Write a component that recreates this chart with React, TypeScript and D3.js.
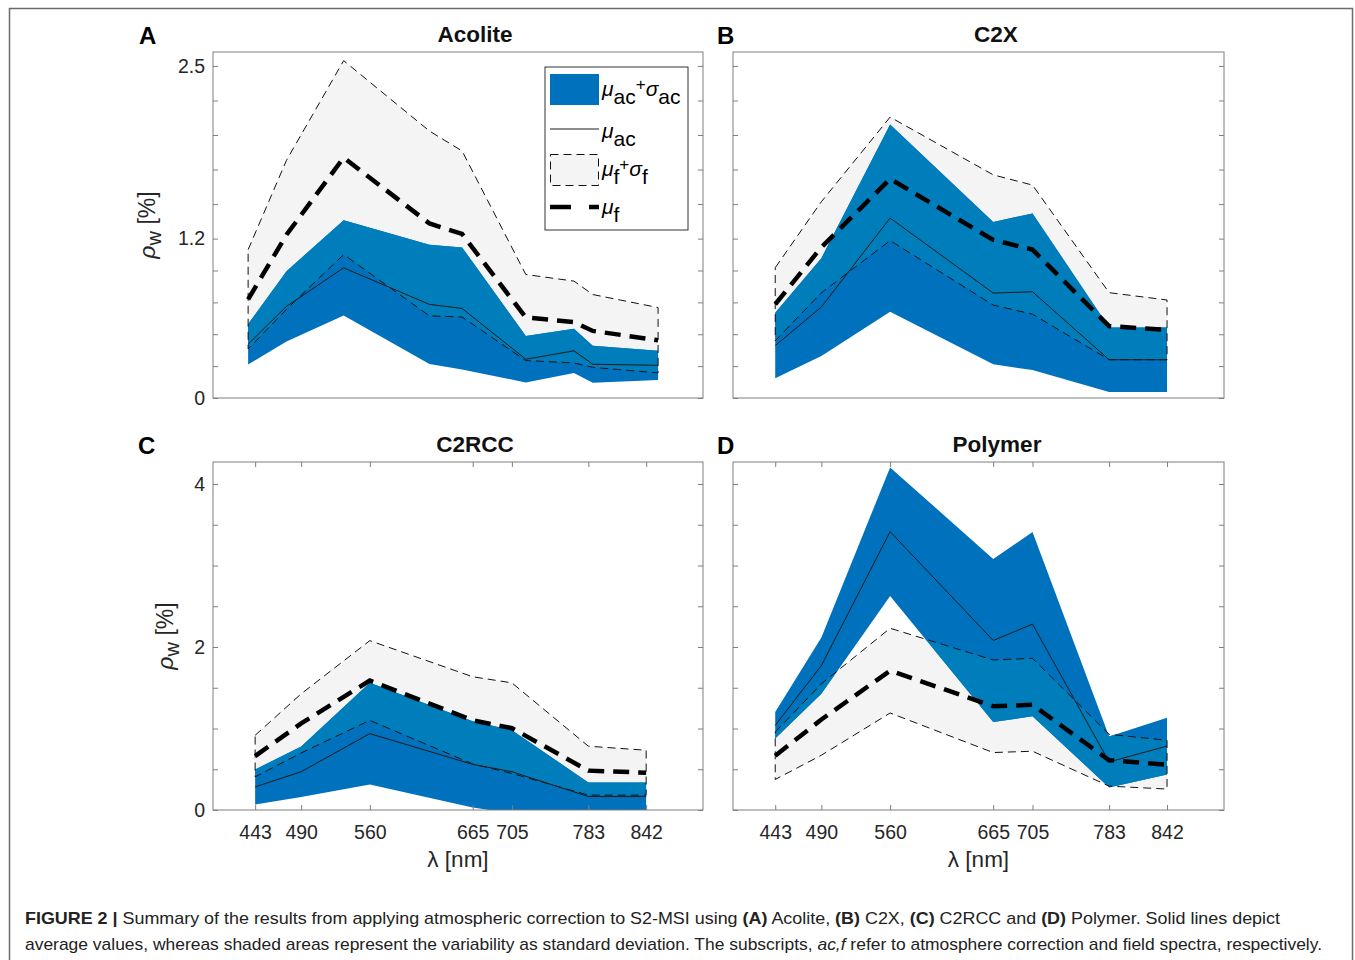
import React, { useEffect, useRef } from 'react';
import * as d3 from 'd3';

// wavelengths (nm)
const bandsAcolite = [443, 490, 560, 665, 705, 783, 842, 865, 945];
const bandsMsi = [443, 490, 560, 665, 705, 783, 842];

// Acolite
const acoliteMuAc = [0.405, 0.69, 0.98, 0.705, 0.674, 0.292, 0.355, 0.254, 0.246];
const acoliteSdAc = [0.152, 0.265, 0.358, 0.449, 0.46, 0.175, 0.167, 0.14, 0.11];
const acoliteMuF = [0.743, 1.229, 1.81, 1.314, 1.235, 0.606, 0.572, 0.505, 0.435];
const acoliteSdF = [0.374, 0.561, 0.73, 0.696, 0.625, 0.324, 0.308, 0.274, 0.246];

// C2X
const c2xMuAc = [0.395, 0.685, 1.355, 0.79, 0.8, 0.288, 0.288];
const c2xSdAc = [0.247, 0.368, 0.705, 0.536, 0.59, 0.243, 0.243];
const c2xMuF = [0.706, 1.135, 1.65, 1.19, 1.117, 0.541, 0.513];
const c2xSdF = [0.275, 0.343, 0.465, 0.49, 0.486, 0.252, 0.225];

// C2RCC
const c2rccMuAc = [0.283, 0.47, 0.937, 0.56, 0.47, 0.165, 0.165];
const c2rccSdAc = [0.214, 0.31, 0.623, 0.53, 0.51, 0.173, 0.173];
const c2rccMuF = [0.662, 1.063, 1.589, 1.1, 1.004, 0.483, 0.458];
const c2rccSdF = [0.255, 0.363, 0.489, 0.535, 0.556, 0.3, 0.275];

// Polymer
const polymerMuAc = [1.039, 1.772, 3.415, 2.08, 2.28, 0.59, 0.784];
const polymerSdAc = [0.163, 0.346, 0.789, 1.0, 1.13, 0.313, 0.348];
const polymerMuF = [0.666, 1.11, 1.71, 1.273, 1.291, 0.611, 0.556];
const polymerSdF = [0.291, 0.438, 0.52, 0.568, 0.57, 0.318, 0.299];

// tick labels
const yTickLabelsTop = [0, 1.2, 2.5];
const yTickLabelsBottom = [0, 2, 4];

const BLUE = '#0071bc';
const OVERLAP = '#007ebb';
const GRAY = '#f4f4f4';
const AXIS = '#7f7f7f';
const TEXT = '#262626';
const FONT = '"Liberation Sans", Arial, Helvetica, sans-serif';

const panels = [
  { key: 'A', title: 'Acolite', wl: bandsAcolite, muAc: acoliteMuAc, sdAc: acoliteSdAc, muF: acoliteMuF, sdF: acoliteSdF,
    left: 213, right: 703, top: 52, bottom: 398, xDomain: [400, 1000], yDomain: [0, 2.605], yLabels: yTickLabelsTop, ySub: 5,
    xTicks: false, yText: true, titleX: 475, letterX: 139, yTitleX: 155 },
  { key: 'B', title: 'C2X', wl: bandsMsi, muAc: c2xMuAc, sdAc: c2xSdAc, muF: c2xMuF, sdF: c2xSdF,
    left: 733, right: 1224, top: 52, bottom: 398, xDomain: [400, 900], yDomain: [0, 2.605], yLabels: yTickLabelsTop, ySub: 5,
    xTicks: false, yText: false, titleX: 996, letterX: 717, yTitleX: 0 },
  { key: 'C', title: 'C2RCC', wl: bandsMsi, muAc: c2rccMuAc, sdAc: c2rccSdAc, muF: c2rccMuF, sdF: c2rccSdF,
    left: 213, right: 703, top: 462, bottom: 810, xDomain: [400, 900], yDomain: [0, 4.27], yLabels: yTickLabelsBottom, ySub: 4,
    xTicks: true, yText: true, titleX: 475, letterX: 138, yTitleX: 173 },
  { key: 'D', title: 'Polymer', wl: bandsMsi, muAc: polymerMuAc, sdAc: polymerSdAc, muF: polymerMuF, sdF: polymerSdF,
    left: 733, right: 1224, top: 462, bottom: 810, xDomain: [400, 900], yDomain: [0, 4.27], yLabels: yTickLabelsBottom, ySub: 4,
    xTicks: true, yText: false, titleX: 997, letterX: 717, yTitleX: 0 },
];

// labelled ticks plus evenly spaced minor ones in between
function subdivide(labels: number[], n: number) {
  const out: number[] = [];
  for (let i = 0; i < labels.length - 1; i++) {
    for (let k = 0; k < n; k++) out.push(labels[i] + (labels[i + 1] - labels[i]) * k / n);
  }
  out.push(labels[labels.length - 1]);
  return out;
}

function styleAxis(g: any, size: number) {
  g.attr('color', AXIS).attr('font-family', FONT).attr('font-size', size);
  g.select('.domain').remove();
  g.selectAll('text').attr('fill', TEXT);
}

function drawPanel(svg: any, p: any) {
  const x = d3.scaleLinear().domain(p.xDomain).range([p.left, p.right]);
  const y = d3.scaleLinear().domain(p.yDomain).range([p.bottom, p.top]);

  const f = p.wl.map((w: number, i: number) => ({ w, mu: p.muF[i], sd: p.sdF[i] }));
  const ac = p.wl.map((w: number, i: number) => ({ w, mu: p.muAc[i], sd: p.sdAc[i] }));

  const band = d3.area<any>().x(d => x(d.w)).y0(d => y(d.mu - d.sd)).y1(d => y(d.mu + d.sd));
  const mean = d3.line<any>().x(d => x(d.w)).y(d => y(d.mu));

  const defs = svg.append('defs');
  defs.append('clipPath').attr('id', 'box-' + p.key).append('rect')
    .attr('x', p.left).attr('y', p.top).attr('width', p.right - p.left).attr('height', p.bottom - p.top);
  defs.append('clipPath').attr('id', 'ac-' + p.key).append('path').datum(ac).attr('d', band);

  const plot = svg.append('g').attr('clip-path', `url(#box-${p.key})`);

  plot.append('path').datum(f).attr('d', band).attr('fill', GRAY);
  plot.append('path').datum(ac).attr('d', band).attr('fill', BLUE);
  plot.append('g').attr('clip-path', `url(#ac-${p.key})`)
    .append('path').datum(f).attr('d', band).attr('fill', OVERLAP);

  plot.append('path').datum(f).attr('d', band)
    .attr('fill', 'none').attr('stroke', '#111').attr('stroke-width', 1).attr('stroke-dasharray', '8 5');
  plot.append('path').datum(ac).attr('d', mean)
    .attr('fill', 'none').attr('stroke', '#1a1a1a').attr('stroke-width', 1);
  plot.append('path').datum(f).attr('d', mean)
    .attr('fill', 'none').attr('stroke', '#000').attr('stroke-width', 4.5).attr('stroke-dasharray', '16 9');

  // y axes, ticks pointing inward
  const yTicks = subdivide(p.yLabels, p.ySub);
  const isLabel = (d: number) => p.yLabels.some((v: number) => Math.abs(v - d) < 1e-9);
  const gl = svg.append('g').attr('transform', `translate(${p.left},0)`)
    .call(d3.axisLeft(y).tickValues(yTicks).tickSizeInner(-5).tickSizeOuter(0).tickPadding(8)
      .tickFormat((d: any) => (p.yText && isLabel(d) ? String(d) : '')));
  styleAxis(gl, 19.5);
  const gr = svg.append('g').attr('transform', `translate(${p.right},0)`)
    .call(d3.axisRight(y).tickValues(yTicks).tickSizeInner(-5).tickSizeOuter(0).tickFormat(() => ''));
  styleAxis(gr, 19);

  if (p.xTicks) {
    const gb = svg.append('g').attr('transform', `translate(0,${p.bottom})`)
      .call(d3.axisBottom(x).tickValues(p.wl).tickSizeInner(-5).tickSizeOuter(0).tickPadding(15)
        .tickFormat((d: any) => String(d)));
    styleAxis(gb, 19.5);
    const gt = svg.append('g').attr('transform', `translate(0,${p.top})`)
      .call(d3.axisTop(x).tickValues(p.wl).tickSizeInner(-5).tickSizeOuter(0).tickFormat(() => ''));
    styleAxis(gt, 19);

    svg.append('text').attr('x', (p.left + p.right) / 2).attr('y', p.bottom + 57)
      .attr('text-anchor', 'middle').attr('font-family', FONT).attr('font-size', 22.5).attr('fill', TEXT)
      .text('λ [nm]');
  }

  svg.append('rect').attr('x', p.left).attr('y', p.top)
    .attr('width', p.right - p.left).attr('height', p.bottom - p.top)
    .attr('fill', 'none').attr('stroke', AXIS).attr('stroke-width', 1);

  // title and panel letter
  svg.append('text').attr('x', p.titleX).attr('y', p.top - 10).attr('text-anchor', 'middle')
    .attr('font-family', FONT).attr('font-weight', 'bold').attr('font-size', 22.5).attr('fill', '#111')
    .text(p.title);
  svg.append('text').attr('x', p.letterX).attr('y', p.top - 8)
    .attr('font-family', FONT).attr('font-weight', 'bold').attr('font-size', 24).attr('fill', '#000')
    .text(p.key);

  if (p.yText) {
    const yt = svg.append('text')
      .attr('transform', `translate(${p.yTitleX},${(p.top + p.bottom) / 2}) rotate(-90)`)
      .attr('text-anchor', 'middle').attr('font-family', FONT).attr('font-size', 23).attr('fill', TEXT);
    yt.append('tspan').attr('font-style', 'italic').text('ρ');
    yt.append('tspan').attr('dy', 6).attr('font-size', 20).text('w');
    yt.append('tspan').attr('dy', -6).text(' [%]');
  }
}

function drawLegend(svg: any) {
  const lx = 545, ly = 67, lw = 143, lh = 163;
  const g = svg.append('g').attr('font-family', FONT).attr('fill', '#000');
  g.append('rect').attr('x', lx).attr('y', ly).attr('width', lw).attr('height', lh)
    .attr('fill', '#fff').attr('stroke', '#333').attr('stroke-width', 1);

  g.append('rect').attr('x', 550).attr('y', 74).attr('width', 49).attr('height', 31).attr('fill', BLUE);
  g.append('line').attr('x1', 550).attr('x2', 599).attr('y1', 129).attr('y2', 129)
    .attr('stroke', '#1a1a1a').attr('stroke-width', 1);
  g.append('rect').attr('x', 550.5).attr('y', 154.5).attr('width', 48).attr('height', 31)
    .attr('fill', GRAY).attr('stroke', '#111').attr('stroke-dasharray', '8 5');
  g.append('line').attr('x1', 550).attr('x2', 599).attr('y1', 207).attr('y2', 207)
    .attr('stroke', '#000').attr('stroke-width', 4.5).attr('stroke-dasharray', '21 18');

  const entry = (yb: number, sub: string, plus: boolean) => {
    const t = g.append('text').attr('x', 602).attr('y', yb).attr('font-size', 21);
    t.append('tspan').attr('font-style', 'italic').text('μ');
    t.append('tspan').attr('dy', 8).text(sub);
    if (plus) {
      t.append('tspan').attr('dy', -14).attr('font-size', 17).text('+');
      t.append('tspan').attr('dy', 6).attr('font-style', 'italic').text('σ');
      t.append('tspan').attr('dy', 8).text(sub);
    }
  };
  entry(96, 'ac', true);
  entry(138, 'ac', false);
  entry(176, 'f', true);
  entry(214, 'f', false);
}

function drawCaption(svg: any) {
  const l1 = svg.append('text').attr('x', 25).attr('y', 924).attr('font-family', FONT)
    .attr('font-size', 17).attr('fill', '#222')
    .attr('textLength', 1255).attr('lengthAdjust', 'spacingAndGlyphs');
  l1.append('tspan').attr('font-weight', 'bold').text('FIGURE 2 |');
  l1.append('tspan').text(' Summary of the results from applying atmospheric correction to S2-MSI using ');
  l1.append('tspan').attr('font-weight', 'bold').text('(A)');
  l1.append('tspan').text(' Acolite, ');
  l1.append('tspan').attr('font-weight', 'bold').text('(B)');
  l1.append('tspan').text(' C2X, ');
  l1.append('tspan').attr('font-weight', 'bold').text('(C)');
  l1.append('tspan').text(' C2RCC and ');
  l1.append('tspan').attr('font-weight', 'bold').text('(D)');
  l1.append('tspan').text(' Polymer. Solid lines depict');

  const l2 = svg.append('text').attr('x', 25).attr('y', 950).attr('font-family', FONT)
    .attr('font-size', 17).attr('fill', '#222')
    .attr('textLength', 1297).attr('lengthAdjust', 'spacingAndGlyphs');
  l2.append('tspan').text('average values, whereas shaded areas represent the variability as standard deviation. The subscripts, ');
  l2.append('tspan').attr('font-style', 'italic').text('ac,f');
  l2.append('tspan').text(' refer to atmosphere correction and field spectra, respectively.');
}

export default function App() {
  const ref = useRef<SVGSVGElement>(null);

  useEffect(() => {
    const svg = d3.select(ref.current);
    svg.selectAll('*').remove();

    svg.append('rect').attr('x', 9.5).attr('y', 8.5).attr('width', 1343).attr('height', 970)
      .attr('fill', '#fff').attr('stroke', '#6b6b6b').attr('stroke-width', 1.5);

    panels.forEach(p => drawPanel(svg, p));
    drawLegend(svg);
    drawCaption(svg);
  }, []);

  return (
    <svg ref={ref} width={1355} height={960}
      style={{ position: 'absolute', left: 0, top: 0, background: '#fff' }} />
  );
}
